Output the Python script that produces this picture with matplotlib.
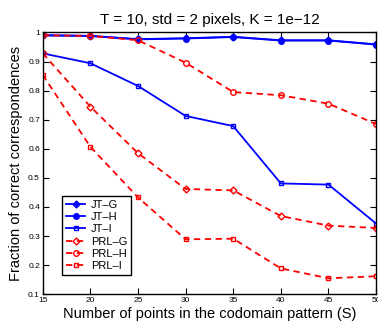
"""Fraction of correct correspondences vs. codomain pattern size."""
import matplotlib
matplotlib.use("Agg")
import matplotlib.pyplot as plt

plt.rcParams["font.family"] = ["Liberation Sans", "DejaVu Sans"]

n_points = [15, 20, 25, 30, 35, 40, 45, 50]

jt_g = [0.990, 0.988, 0.977, 0.980, 0.985, 0.973, 0.973, 0.959]
jt_h = [0.990, 0.988, 0.976, 0.979, 0.984, 0.972, 0.972, 0.958]
jt_i = [0.928, 0.894, 0.816, 0.713, 0.678, 0.481, 0.477, 0.343]
prl_g = [0.928, 0.745, 0.585, 0.462, 0.457, 0.369, 0.336, 0.328]
prl_h = [0.990, 0.988, 0.973, 0.896, 0.795, 0.784, 0.755, 0.685]
prl_i = [0.854, 0.607, 0.433, 0.289, 0.291, 0.189, 0.155, 0.162]

BLUE = "#0000ff"
RED = "#ff0000"

fig = plt.figure(figsize=(3.78, 3.29), dpi=100)
ax = fig.add_axes([0.113, 0.1055, 0.882, 0.796])

blue_kw = dict(color=BLUE, lw=1.3)
red_kw = dict(color=RED, lw=1.3, ls=(0, (3.5, 2.5)), mfc="none", mew=1.0)

ax.plot(n_points, jt_g, marker="D", mfc=BLUE, ms=3.5, label="JT\u2013G", **blue_kw)
ax.plot(n_points, jt_h, marker="o", mfc=BLUE, ms=4, label="JT\u2013H", **blue_kw)
ax.plot(n_points, jt_i, marker="s", mfc="none", mew=1.0, ms=3.5, label="JT\u2013I", **blue_kw)
ax.plot(n_points, prl_g, marker="D", ms=3.5, label="PRL\u2013G", **red_kw)
ax.plot(n_points, prl_h, marker="o", ms=4, label="PRL\u2013H", **red_kw)
ax.plot(n_points, prl_i, marker="s", ms=3.5, label="PRL\u2013I", **red_kw)

ax.set_xlim(15, 50)
ax.set_ylim(0.1, 1.0)
ax.set_xticks(n_points)
ax.set_yticks([0.1, 0.2, 0.3, 0.4, 0.5, 0.6, 0.7, 0.8, 0.9, 1.0])
ax.set_yticklabels(["0.1", "0.2", "0.3", "0.4", "0.5", "0.6", "0.7", "0.8", "0.9", "1"])
ax.tick_params(direction="in", length=4, width=0.8, labelsize=6, pad=2,
               top=True, right=True)
for s in ax.spines.values():
    s.set_linewidth(1.0)

ax.set_title("T = 10, std = 2 pixels, K = 1e\u221212", fontsize=11, pad=6)
ax.set_xlabel("Number of points in the codomain pattern (S)", fontsize=10.5, labelpad=2)
ax.set_ylabel("Fraction of correct correspondences", fontsize=10.5, labelpad=4)

leg = ax.legend(loc="lower left", bbox_to_anchor=(0.059, 0.074), borderaxespad=0,
                fontsize=8, labelspacing=0.2, handlelength=1.7, handletextpad=0.5,
                borderpad=0.35, fancybox=False, framealpha=1, edgecolor="black")
leg.get_frame().set_linewidth(1.0)

fig.savefig("out.png", dpi=100)
plt.close(fig)
